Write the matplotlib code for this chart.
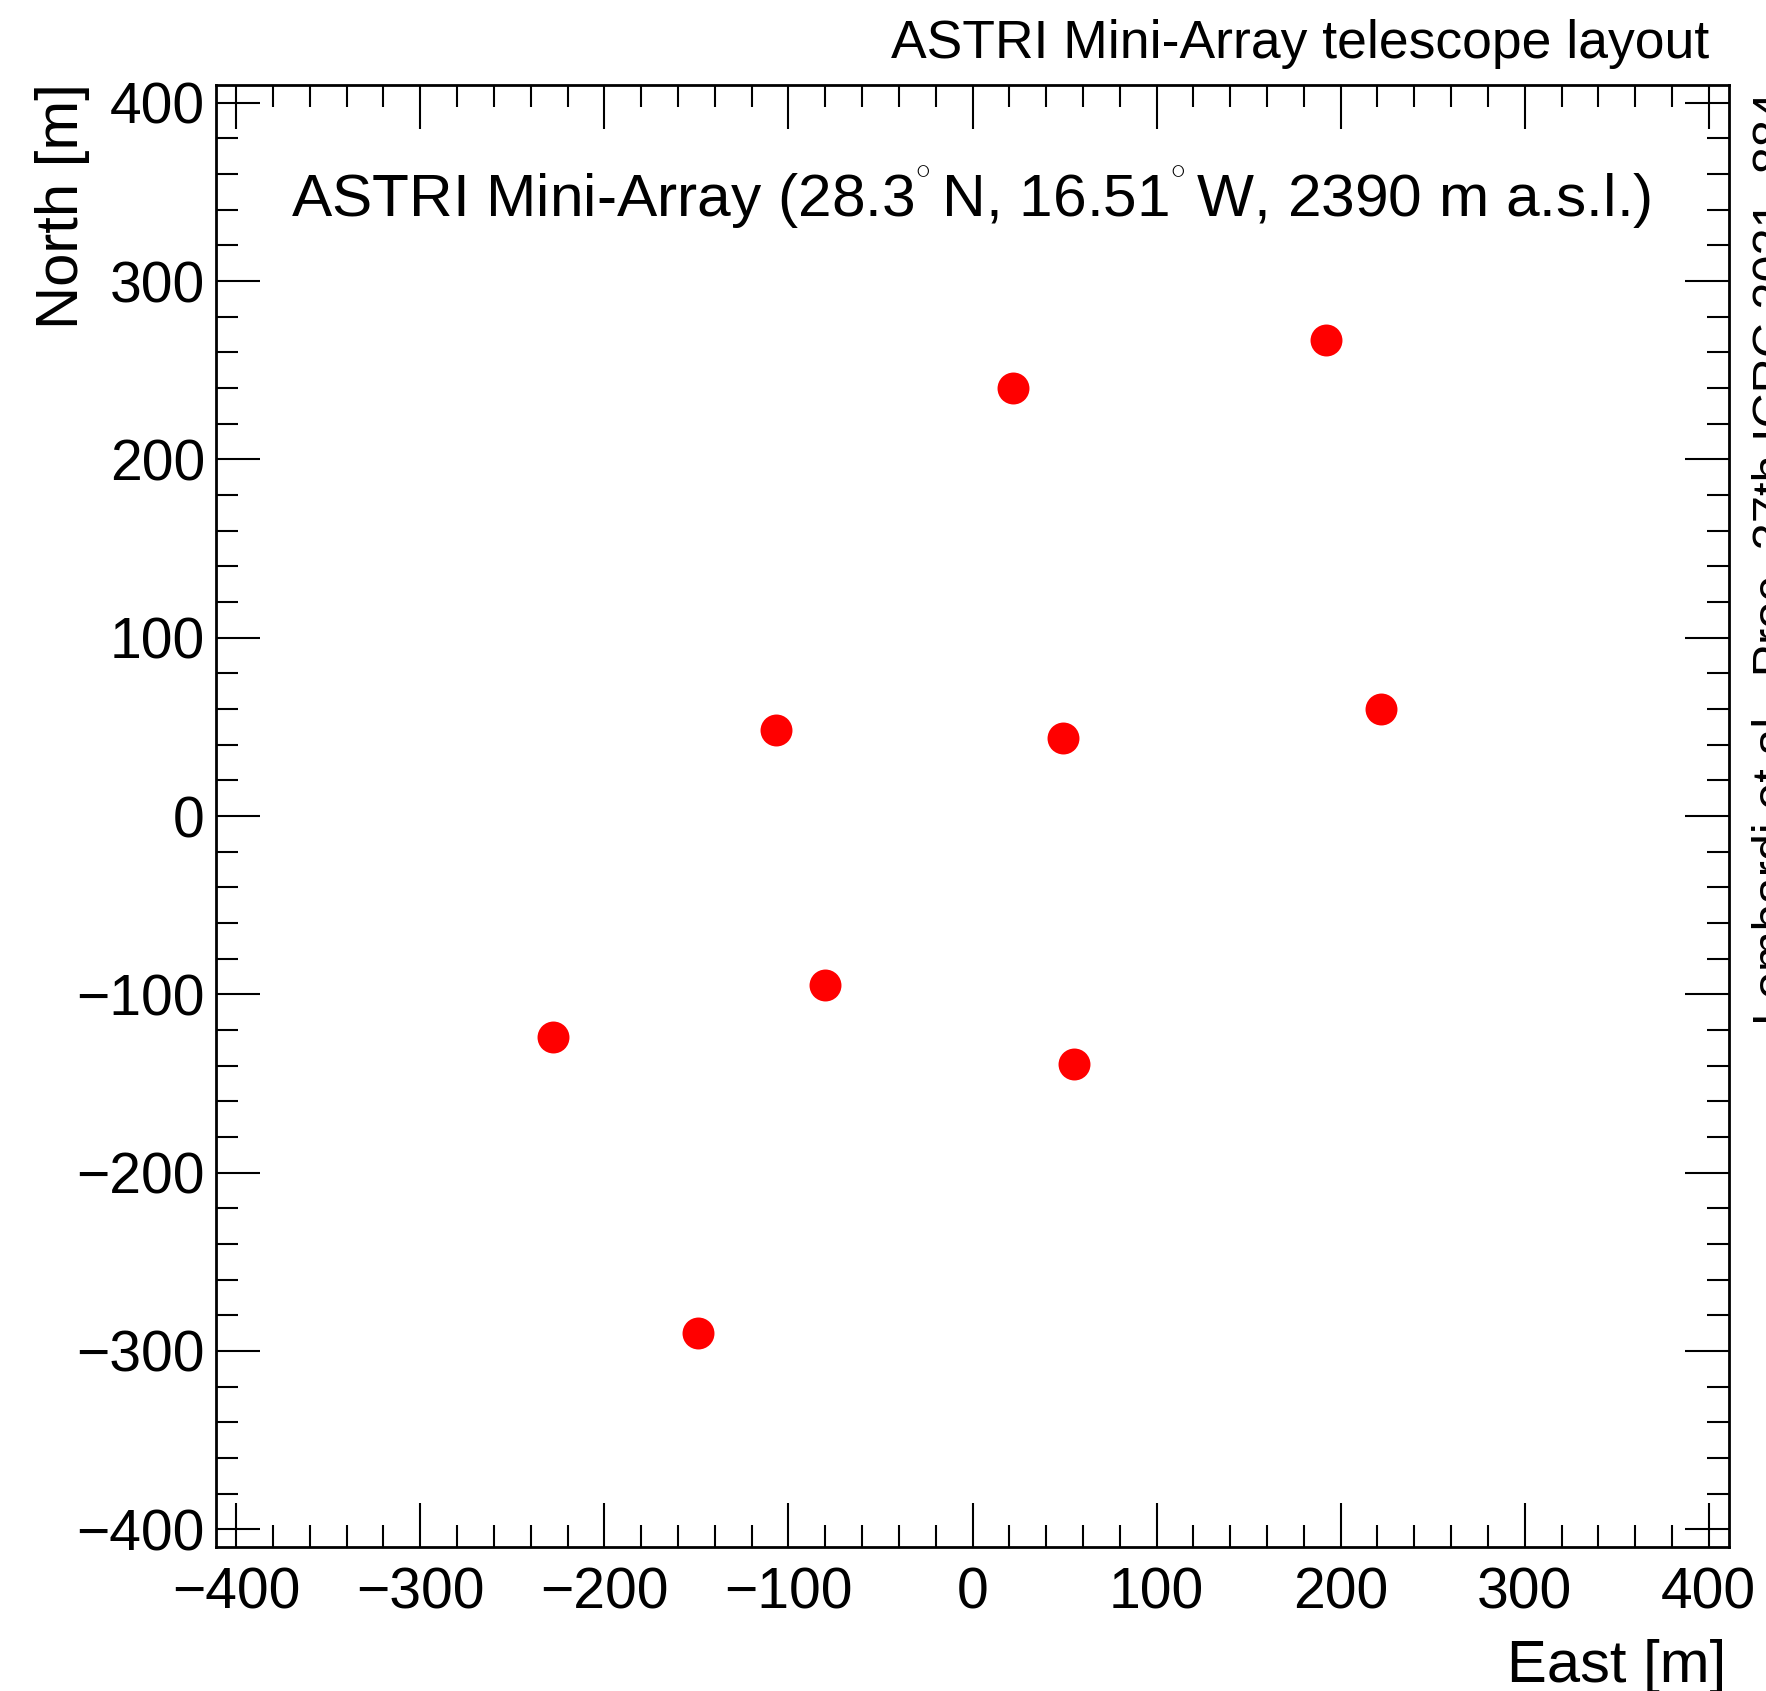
import matplotlib
matplotlib.use("Agg")
import matplotlib.pyplot as plt
from matplotlib.ticker import MultipleLocator

# Telescope positions (m)
east = [22, 192, -107, 49, 222, -80, -228, 55, -149]
north = [240, 267, 48, 44, 60, -95, -124, -139, -290]

title = "ASTRI Mini-Array telescope layout"
site_label = "ASTRI Mini-Array (28.3$^{^{\\circ}}\\,$N, 16.51$^{^{\\circ}}\\,$W, 2390 m a.s.l.)"
ref_label = "Lombardi et al., Proc. 37th ICRC 2021, 884"
xlabel = "East [m]"
ylabel = "North [m]"

plt.rcParams['font.family'] = ['Liberation Sans', 'DejaVu Sans']
plt.rcParams['mathtext.fontset'] = 'custom'
plt.rcParams['mathtext.rm'] = 'Liberation Sans'
plt.rcParams['mathtext.it'] = 'Liberation Sans'

W, H = 1766, 1691
fig = plt.figure(figsize=(W / 100, H / 100), dpi=100)
ax = fig.add_axes([216 / W, 1 - 1547 / H, (1729 - 216) / W, (1547 - 85) / H])

ax.plot(east, north, 'o', color='#ff0000', markersize=23, markeredgewidth=0)

ax.set_xlim(-411, 411)
ax.set_ylim(-410, 410)
ax.xaxis.set_major_locator(MultipleLocator(100))
ax.xaxis.set_minor_locator(MultipleLocator(20))
ax.yaxis.set_major_locator(MultipleLocator(100))
ax.yaxis.set_minor_locator(MultipleLocator(20))
ax.tick_params(which='both', direction='in', top=True, right=True, width=1.5, colors='black')
ax.tick_params(which='major', length=32, labelsize=41)
ax.tick_params(which='minor', length=16)
ax.tick_params(axis='x', which='major', pad=14)
ax.tick_params(axis='y', which='major', pad=8)
for s in ax.spines.values():
    s.set_linewidth(2)

fig.text(291 / W, 1 - 217 / H, site_label, fontsize=43.5, ha='left', va='baseline')
fig.text(1709 / W, 1 - 58 / H, title, fontsize=38.5, ha='right', va='baseline')
fig.text(1726 / W, 1 - 1682 / H, xlabel, fontsize=43, ha='right', va='baseline')
fig.text(35 / W, 1 - 83 / H, ylabel, fontsize=43, ha='left', va='top', rotation=90)
fig.text(1752 / W, 1 - 1025 / H, ref_label, fontsize=35, ha='left', va='bottom', rotation=90)

fig.savefig("out.png", dpi=100)
